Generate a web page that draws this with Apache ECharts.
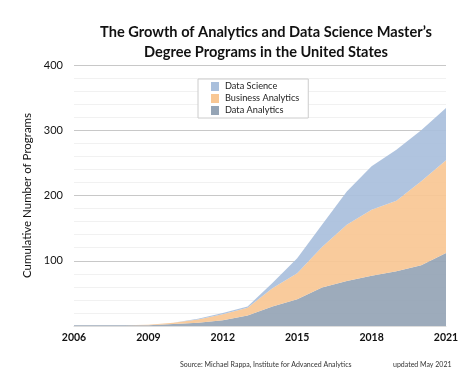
<!DOCTYPE html>
<html><head><meta charset="utf-8">
<script src="https://cdn.jsdelivr.net/npm/echarts@6/dist/echarts.min.js"></script>
<style>html,body{margin:0;padding:0;background:#fff}#c{width:474px;height:379px}</style>
</head><body><div id="c"></div>
<script>
const years = ['2006','2007','2008','2009','2010','2011','2012','2013','2014','2015','2016','2017','2018','2019','2020','2021'];
// annual cumulative counts per category (stacked)
const dataAnalytics     = [1,1,1,1,3,5,9,16,30,41,59,69,77,84,93,112];
const businessAnalytics = [0,0,0,1,2,5,9,12,28,40,62,86,101,108,129,142];
const dataScience       = [0,0,0,0,0,1,2,2,8,23,34,51,67,78,78,80];
const seriesNames = ['Data Science','Business Analytics','Data Analytics'];
const yTicks = [0,100,200,300,400];

const FONT = 'Lato, "DejaVu Sans", sans-serif';
const chart = echarts.init(document.getElementById('c'));
const areaSeries = (name, data, color) => ({
  name, type:'line', stack:'total', data, symbol:'none', smooth:false,
  lineStyle:{width:0}, areaStyle:{color, opacity:0.92}, itemStyle:{color}
});
chart.setOption({
  animation:false,
  textStyle:{fontFamily:FONT},
  title:[{
    text:"The Growth of Analytics and Data Science Master’s\nDegree Programs in the United States",
    left:261, textAlign:'center', top:17,
    textStyle:{fontFamily:FONT, fontWeight:'bold', fontSize:14.6, lineHeight:20, color:'#111'}
  },{
    text:'Source: Michael Rappa, Institute for Advanced Analytics',
    left:175, top:356, textStyle:{fontFamily:FONT, fontSize:7, fontWeight:'normal', color:'#333'}
  },{
    text:'updated May 2021',
    left:388, top:356, textStyle:{fontFamily:FONT, fontSize:7, fontWeight:'normal', color:'#333'}
  }],
  legend:{
    data:seriesNames, orient:'vertical', left:198, top:79,
    backgroundColor:'#fff', borderColor:'#ccc', borderWidth:1, padding:[3,9,3,13],
    itemWidth:8, itemHeight:9, itemGap:3, icon:'rect',
    textStyle:{fontFamily:FONT, fontSize:9.2, color:'#222', padding:[0,0,0,1]}
  },
  grid:{left:74, right:28, top:65, bottom:53},
  xAxis:{
    type:'category', data:years, boundaryGap:false,
    axisLine:{show:true, lineStyle:{color:'#ddd'}}, axisTick:{show:false},
    axisLabel:{interval:2, fontWeight:'bold', fontSize:10.5, color:'#111', margin:6, fontFamily:FONT},
    splitLine:{show:false}
  },
  yAxis:{
    type:'value', min:0, max:400, interval:20,
    name:'Cumulative Number of Programs', nameLocation:'middle', nameGap:37, nameRotate:90,
    nameTextStyle:{fontFamily:FONT, fontSize:11.5, color:'#111'},
    axisLine:{show:false}, axisTick:{show:false},
    axisLabel:{fontSize:11, color:'#111', margin:11, fontFamily:FONT,
      formatter:v => (yTicks.includes(v) && v>0) ? String(v) : ''},
    splitLine:{show:true, lineStyle:{color:['#c8c8c8','#f1f1f1','#f1f1f1','#f1f1f1','#f1f1f1'], width:1}}
  },
  series:[
    areaSeries('Data Analytics', dataAnalytics, '#95a4b5'),
    areaSeries('Business Analytics', businessAnalytics, '#f8c794'),
    areaSeries('Data Science', dataScience, '#a9bfdc')
  ]
});
</script></body></html>
